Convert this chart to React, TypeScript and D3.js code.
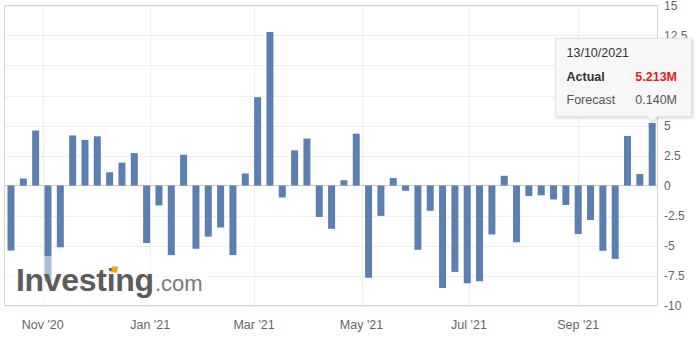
import React from "react";
import * as d3 from "d3";

const dates: string[] = [
  "2020-10-14", "2020-10-21", "2020-10-28", "2020-11-04", "2020-11-11", "2020-11-18", "2020-11-25",
  "2020-12-02", "2020-12-09", "2020-12-16", "2020-12-23", "2020-12-30",
  "2021-01-06", "2021-01-13", "2021-01-20", "2021-01-27", "2021-02-03", "2021-02-10", "2021-02-17", "2021-02-24",
  "2021-03-03", "2021-03-10", "2021-03-17", "2021-03-24", "2021-03-31",
  "2021-04-07", "2021-04-14", "2021-04-21", "2021-04-28",
  "2021-05-05", "2021-05-12", "2021-05-19", "2021-05-26",
  "2021-06-02", "2021-06-09", "2021-06-16", "2021-06-23", "2021-06-30",
  "2021-07-07", "2021-07-14", "2021-07-21", "2021-07-28",
  "2021-08-04", "2021-08-11", "2021-08-18", "2021-08-25",
  "2021-09-01", "2021-09-08", "2021-09-15", "2021-09-22", "2021-09-29",
  "2021-10-06", "2021-10-13",
];

const actual: number[] = [
  -5.42, 0.58, 4.58, -8.0, -5.15, 4.17, 3.8,
  4.1, 1.1, 1.9, 2.7, -4.8,
  -1.66, -5.8, 2.56, -5.27, -4.26, -3.5, -5.8, 1.0,
  7.36, 12.79, -1.0, 2.93, 3.91,
  -2.62, -3.61, 0.44, 4.32,
  -7.69, -2.53, 0.62, -0.44,
  -5.36, -2.11, -8.54, -7.2, -8.15,
  -7.98, -4.08, 0.81, -4.73,
  -0.88, -0.82, -1.16, -1.62,
  -4.05, -2.88, -5.44, -6.11, 4.13,
  0.95, 5.213,
];

const yTicks: number[] = [15, 12.5, 10, 7.5, 5, 2.5, 0, -2.5, -5, -7.5, -10];
const xTickDates: string[] = ["2020-11-01", "2021-01-01", "2021-03-01", "2021-05-01", "2021-07-01", "2021-09-01"];
const xTickLabels: string[] = ["Nov '20", "Jan '21", "Mar '21", "May '21", "Jul '21", "Sep '21"];

const tooltipDate = "13/10/2021";
const tooltipActual = "5.213M";
const tooltipForecast = "0.140M";

const W = 700;
const H = 339;
const plotLeft = 4.5;
const plotRight = 657.5;
const plotTop = 5.5;
const plotBottom = 305.5;

const parse = d3.utcParse("%Y-%m-%d");

export default function App() {
  const x = d3
    .scaleUtc()
    .domain([parse("2020-11-01")!, parse("2021-09-01")!])
    .range([42.7, 578.2]);
  const y = d3.scaleLinear().domain([-10, 15]).range([plotBottom, plotTop]);
  const barW = 7;
  const font = "'Liberation Sans', Arial, Helvetica, sans-serif";
  const barColor = "#5a7fb0";

  const lastX = x(parse(dates[dates.length - 1])!);
  const lastY = y(actual[actual.length - 1]);

  return (
    <svg
      width={W}
      height={H}
      style={{ position: "absolute", left: 0, top: 0, background: "#fff" }}
      fontFamily={font}
    >
      <defs>
        <filter id="shadow" x="-10%" y="-10%" width="130%" height="140%">
          <feDropShadow dx="1" dy="1" stdDeviation="1.5" floodColor="#000" floodOpacity="0.18" />
        </filter>
      </defs>
      <rect x={0} y={0} width={W} height={H} fill="#fff" />
      {/* horizontal gridlines */}
      {yTicks.map((t) => (
        <line
          key={"gy" + t}
          x1={plotLeft}
          x2={plotRight}
          y1={Math.round(y(t)) + 0.5}
          y2={Math.round(y(t)) + 0.5}
          stroke="#efefef"
          strokeWidth={1}
        />
      ))}
      {/* vertical gridlines */}
      {xTickDates.map((d) => {
        const xx = Math.round(x(parse(d)!)) + 0.5;
        return <line key={"gx" + d} x1={xx} x2={xx} y1={plotTop} y2={plotBottom} stroke="#efefef" />;
      })}
      {/* zero line */}
      <line x1={plotLeft} x2={plotRight} y1={y(0)} y2={y(0)} stroke="#c8c8c8" strokeWidth={1} />
      {/* bars */}
      {actual.map((v, i) => {
        const cx = x(parse(dates[i])!);
        const y0 = y(0);
        const yv = y(v);
        return (
          <rect
            key={"b" + i}
            x={cx - barW / 2}
            y={Math.min(y0, yv)}
            width={barW}
            height={Math.abs(yv - y0)}
            fill={barColor}
          />
        );
      })}
      {/* plot border */}
      <line x1={plotLeft} x2={plotLeft} y1={plotTop} y2={plotBottom} stroke="#d4d4d4" />
      <line x1={plotLeft} x2={plotRight} y1={plotTop} y2={plotTop} stroke="#d4d4d4" />
      <line x1={plotRight} x2={plotRight} y1={plotTop} y2={plotBottom} stroke="#d4d4d4" />
      <line x1={plotLeft} x2={plotRight} y1={plotBottom} y2={plotBottom} stroke="#ccd6eb" />
      {/* watermark */}
      <rect x={10} y={256} width={200} height={46} fill="#fff" opacity={0.5} />
      <text x={16} y={291} fontSize={32} fontWeight="bold" fill="#5c5c5c" letterSpacing={-0.3}>
        Investing
      </text>
      <rect x={111.5} y={266.5} width={6} height={6} fill="#f4a71d" transform="skewX(-8)" style={{ transformBox: "fill-box", transformOrigin: "center" }} />
      <text x={155} y={291} fontSize={22} fill="#7a7a7a">
        .com
      </text>
      {/* y labels */}
      {yTicks.map((t) => (
        <text key={"ly" + t} x={664} y={y(t) + 4.5} fontSize={12} fill="#666">
          {String(t)}
        </text>
      ))}
      {/* x labels */}
      {xTickDates.map((d, i) => (
        <text key={"lx" + d} x={x(parse(d)!)} y={328.5} fontSize={12.5} fill="#666" textAnchor="middle">
          {xTickLabels[i]}
        </text>
      ))}
      {/* tooltip */}
      <g filter="url(#shadow)">
        <path
          d={`M555.5,38.5 H691.5 V116.5 H${lastX + 5} L${lastX},${lastY - 2} L${lastX - 5},116.5 H555.5 Z`}
          fill="#f7f7f7"
          stroke="#e3e3e3"
          strokeWidth={1}
        />
      </g>
      <text x={566.5} y={57} fontSize={12.5} fill="#333">
        {tooltipDate}
      </text>
      <text x={566.5} y={81} fontSize={12.5} fill="#333" fontWeight="bold">
        Actual
      </text>
      <text x={677} y={81} fontSize={12.5} fill="#e8171f" fontWeight="bold" textAnchor="end">
        {tooltipActual}
      </text>
      <text x={566.5} y={104} fontSize={12.5} fill="#555">
        Forecast
      </text>
      <text x={677} y={104} fontSize={12.5} fill="#555" textAnchor="end">
        {tooltipForecast}
      </text>
    </svg>
  );
}
